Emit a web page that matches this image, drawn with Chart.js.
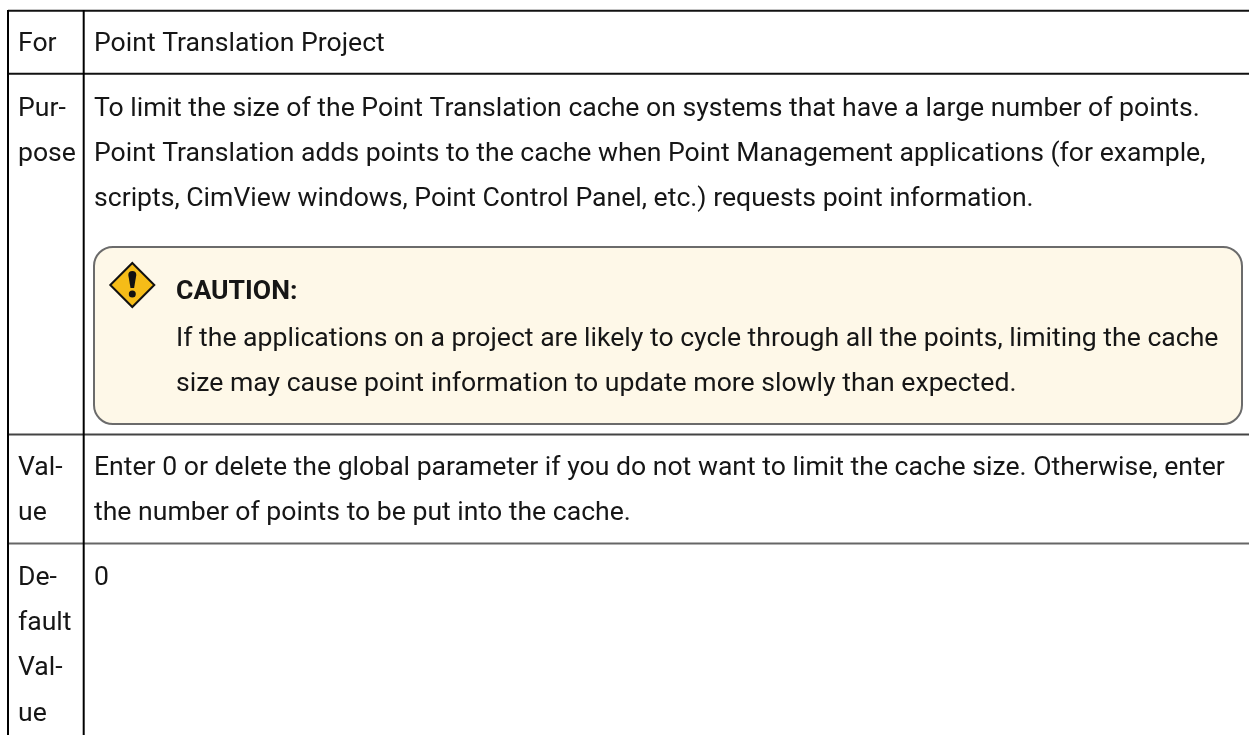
<!DOCTYPE html>
<html><head><meta charset="utf-8">
<style>html,body{margin:0;padding:0;background:#fff;overflow:hidden}canvas{display:block}</style>
<script src="https://cdn.jsdelivr.net/npm/chart.js@4"></script></head>
<body><div style="width:1249px;height:735px"><canvas id="c" width="1249" height="735"></canvas></div>
<script>
const rowLabels = [["For"],["Pur-","pose"],["Val-","ue"],["De-","fault","Val-","ue"]];
const bodyTexts = [
 ["Point Translation Project"],
 ["To limit the size of the Point Translation cache on systems that have a large number of points.",
  "Point Translation adds points to the cache when Point Management applications (for example,",
  "scripts, CimView windows, Point Control Panel, etc.) requests point information."],
 ["Enter 0 or delete the global parameter if you do not want to limit the cache size. Otherwise, enter",
  "the number of points to be put into the cache."],
 ["0"]
];
const cautionTitle = "CAUTION:";
const cautionLines = ["If the applications on a project are likely to cycle through all the points, limiting the cache",
 "size may cause point information to update more slowly than expected."];
const FONT = 'Roboto, sans-serif';
const SIZE = 26.6;
const tablePlugin = {id:'table',afterDraw(ch){
 const g=ch.ctx; g.save();
 g.fillStyle='#fff'; g.fillRect(0,0,1249,735);
 // horizontal rules
 [[10.7,'#111'],[73.7,'#111'],[434.4,'#444'],[543.4,'#666']].forEach(([y,c])=>{g.strokeStyle=c;g.lineWidth=2;g.beginPath();g.moveTo(8,y);g.lineTo(1249,y);g.stroke();});
 // vertical rules
 g.strokeStyle='#000'; g.lineWidth=2;
 [8,83.7].forEach(x=>{g.beginPath();g.moveTo(x,10);g.lineTo(x,735);g.stroke();});
 // caution box
 g.fillStyle='#fef8e8'; g.strokeStyle='#6b6b6b'; g.lineWidth=2;
 g.beginPath(); g.roundRect(94,247,1148,177,19); g.fill(); g.stroke();
 // caution icon
 const cx=132.3,cy=285,r=22;
 g.fillStyle='#f5bc18'; g.strokeStyle='#111'; g.lineWidth=2; g.lineJoin='miter';
 g.beginPath(); g.moveTo(cx,cy-r); g.lineTo(cx+r,cy); g.lineTo(cx,cy+r); g.lineTo(cx-r,cy); g.closePath(); g.fill(); g.stroke();
 g.fillStyle='#111';
 g.beginPath(); g.arc(cx,cy-10,4,Math.PI,0); g.lineTo(cx+1.8,cy+3); g.lineTo(cx-1.8,cy+3); g.closePath(); g.fill();
 g.beginPath(); g.arc(cx,cy+9,3.5,0,Math.PI*2); g.fill();
 // text
 g.fillStyle='#161616'; g.textBaseline='alphabetic'; g.font='400 '+SIZE+'px '+FONT;
 const firstBaseline=[51,116,475,585], step=45.2;
 rowLabels.forEach((ls,i)=>ls.forEach((t,j)=>g.fillText(t,18,firstBaseline[i]+j*step)));
 bodyTexts.forEach((ls,i)=>ls.forEach((t,j)=>g.fillText(t,94,firstBaseline[i]+j*step)));
 g.font='700 '+SIZE+'px '+FONT; g.fillText(cautionTitle,176,299);
 g.font='400 '+SIZE+'px '+FONT; cautionLines.forEach((t,i)=>g.fillText(t,176,346+i*step));
 g.restore();
}};
new Chart(document.getElementById('c'),{type:'scatter',data:{datasets:[]},plugins:[tablePlugin],options:{responsive:false,animation:false,plugins:{legend:{display:false},tooltip:{enabled:false}},scales:{x:{display:false},y:{display:false}}}});
</script></body></html>
